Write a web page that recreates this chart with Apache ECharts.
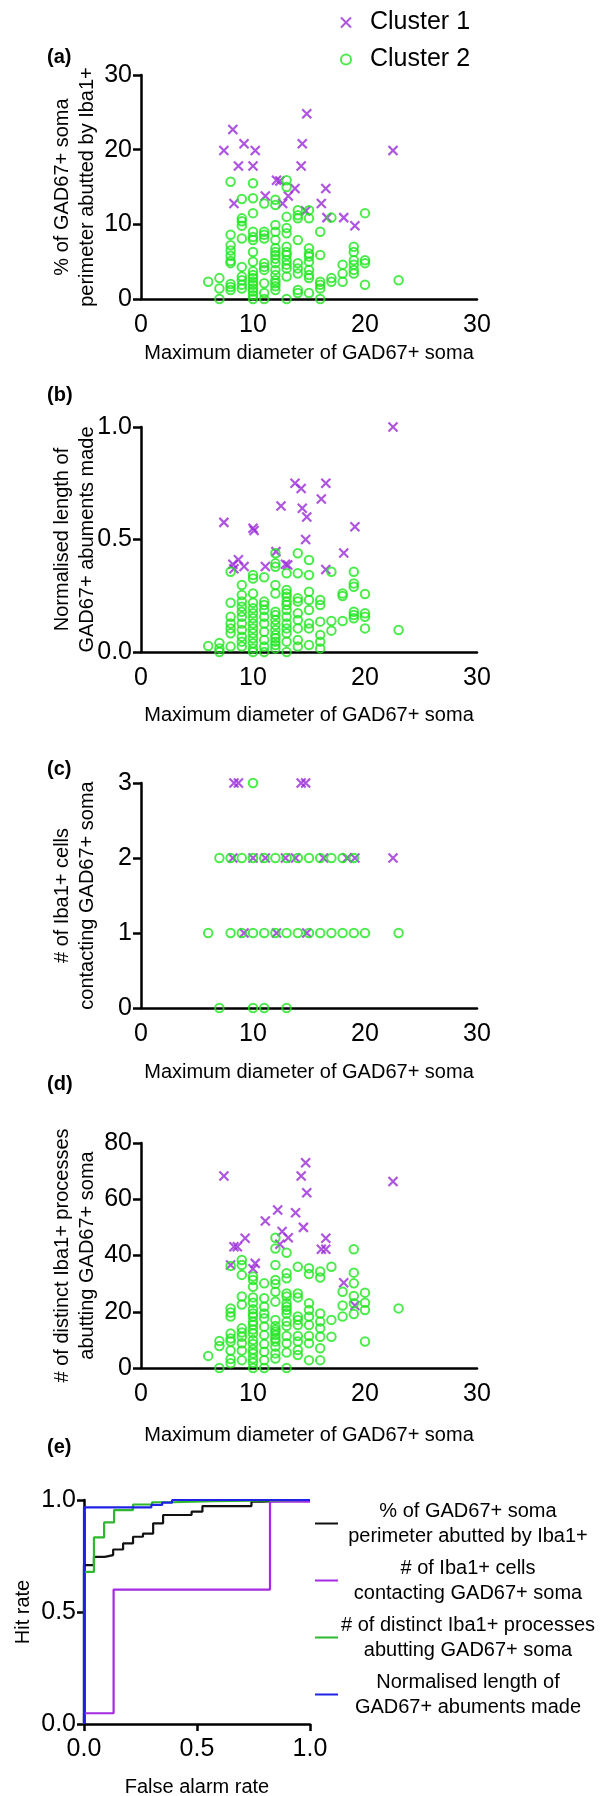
<!DOCTYPE html>
<html>
<head>
<meta charset="utf-8">
<script src="https://cdn.jsdelivr.net/npm/echarts@6/dist/echarts.min.js"></script>
<style>
  html, body { margin: 0; padding: 0; background: #fff; }
  #chart { width: 606px; height: 1796px; }
</style>
</head>
<body>
<div id="chart"></div>
<script>
// (a) % of soma perimeter abutted, x = maximum diameter
const aCluster1 = [[14.8,24.8],[8.2,22.7],[9.2,20.8],[7.4,19.9],[10.2,19.9],[14.4,20.8],[22.5,19.9],[8.7,17.8],[10.0,17.8],[14.3,17.8],[12.1,15.9],[12.4,15.8],[13.75,14.8],[16.5,14.8],[11.1,13.8],[13.15,13.8],[8.3,12.8],[12.65,12.8],[16.1,12.8],[14.7,11.8],[16.6,10.9],[18.1,10.9],[19.1,9.8]];
const aCluster2 = [[6,2.3],[7,2.8],[7,1.4],[7,0],
  [8,15.7],[8,8.6],[8,7.2],[8,6.5],[8,5.8],[8,5.1],[8,4.8],[8,2.0],[8,1.6],[8,1.2],
  [9,13.4],[9,10.8],[9,10.4],[9,9.8],[9,8.1],[9,4.3],[9,3.0],[9,2.5],[9,1.9],[9,1.4],
  [10,15.5],[10,13.5],[10,11.5],[10,9.0],[10,8.3],[10,7.9],[10,6.3],[10,5.0],[10,3.7],[10,3.2],[10,2.8],[10,2.3],[10,1.9],[10,1.4],[10,1.0],[10,0.5],[10,0],
  [11,12.8],[11,9.0],[11,8.6],[11,8.1],[11,4.8],[11,4.3],[11,3.9],[11,2.1],[11,0.8],[11,0],
  [12,13.3],[12,12.6],[12,9.9],[12,9.0],[12,7.9],[12,6.8],[12,6.3],[12,5.9],[12,5.4],[12,4.8],[12,3.9],[12,3.2],[12,2.5],[12,2.1],[12,1.7],[12,1.2],
  [13,15.9],[13,15.0],[13,11.0],[13,9.5],[13,8.8],[13,7.0],[13,6.3],[13,5.9],[13,5.2],[13,4.6],[13,4.1],[13,3.0],[13,0],
  [14,11.9],[14,11.2],[14,10.8],[14,7.9],[14,4.8],[14,4.1],[14,3.4],[14,1.2],[14,0.8],
  [15,11.9],[15,10.8],[15,6.8],[15,6.1],[15,5.7],[15,5.0],[15,3.9],[15,3.2],[15,2.8],[15,0.8],
  [16,9.0],[16,5.9],[16,2.3],[16,1.9],[16,1.4],[16,0],
  [17,10.9],[17,2.8],[17,2.3],
  [18,4.6],[18,3.4],[18,2.3],
  [19,7.0],[19,6.3],[19,5.2],[19,4.6],[19,3.9],[19,3.4],
  [20,11.5],[20,5.2],[20,4.8],[20,1.9],
  [23,2.5]];

// (b) normalised abutment length
const bCluster1 = [[22.5,1.0],[13.75,0.75],[14.3,0.727],[16.5,0.75],[16.1,0.68],[12.5,0.649],[14.4,0.639],[14.8,0.60],[7.4,0.576],[10.0,0.55],[10.1,0.54],[19.1,0.557],[14.7,0.50],[18.1,0.44],[12.05,0.446],[8.7,0.41],[8.2,0.39],[9.2,0.38],[11.1,0.38],[12.9,0.39],[13.1,0.387],[16.5,0.367],[8.3,0.37]];
const bCluster2 = [[6,0.027],[7,0.04],[7,0.016],[7,0],
  [8,0.357],[8,0.219],[8,0.157],[8,0.127],[8,0.105],[8,0.083],[8,0.024],
  [9,0.298],[9,0.253],[9,0.224],[9,0.201],[9,0.179],[9,0.157],[9,0.127],[9,0.098],[9,0.068],[9,0.046],[9,0.024],
  [10,0.342],[10,0.327],[10,0.26],[10,0.219],[10,0.194],[10,0.172],[10,0.15],[10,0.127],[10,0.105],[10,0.083],[10,0.061],[10,0.039],[10,0.016],[10,0],
  [11,0.332],[11,0.224],[11,0.209],[11,0.187],[11,0.157],[11,0.127],[11,0.09],[11,0.053],[11,0.024],[11,0],
  [12,0.439],[12,0.394],[12,0.379],[12,0.298],[12,0.26],[12,0.179],[12,0.164],[12,0.142],[12,0.12],[12,0.098],[12,0.076],[12,0.061],[12,0.046],[12,0.031],[12,0.016],
  [13,0.35],[13,0.276],[13,0.26],[13,0.246],[13,0.224],[13,0.209],[13,0.187],[13,0.157],[13,0.127],[13,0.105],[13,0.083],[13,0.046],[13,0],
  [14,0.439],[14,0.35],[14,0.239],[14,0.224],[14,0.172],[14,0.142],[14,0.105],[14,0.053],[14,0.024],
  [15,0.409],[15,0.342],[15,0.268],[15,0.231],[15,0.187],[15,0.127],[15,0.105],[15,0.031],
  [16,0.231],[16,0.209],[16,0.135],[16,0.076],[16,0.046],[16,0.016],
  [17,0.357],[17,0.138],[17,0.095],
  [18,0.26],[18,0.249],[18,0.138],
  [19,0.357],[19,0.305],[19,0.29],[19,0.179],[19,0.164],[19,0.15],
  [20,0.258],[20,0.172],[20,0.157],[20,0.105],
  [23,0.098]];

// (c) number of Iba1+ cells in contact
const cCluster1 = [[8.3,3],[8.7,3],[14.3,3],[14.7,3],
  [8.2,2],[10.0,2],[11.1,2],[12.9,2],[13.8,2],[16.3,2],[18.4,2],[19.1,2],[22.5,2],
  [9.2,1],[12.1,1],[14.8,1]];
const cCluster2 = [[10,3],
  [7,2],[8,2],[9,2],[10,2],[11,2],[12,2],[13,2],[14,2],[15,2],[16,2],[17,2],[18,2],[19,2],
  [6,1],[8,1],[9,1],[10,1],[11,1],[12,1],[13,1],[14,1],[15,1],[16,1],[17,1],[18,1],[19,1],[20,1],[23,1],
  [7,0],[10,0],[11,0],[13,0]];

// (d) number of distinct Iba1+ processes
const dCluster1 = [[14.7,73.0],[7.4,68.3],[14.3,68.3],[22.5,66.3],[14.8,62.3],[12.2,56.2],[13.8,55.2],[11.1,52.3],[14.5,50.0],[12.6,48.5],[13.15,46.3],[9.3,46.1],[16.5,46.1],[12.4,44.0],[8.3,43.1],[8.6,43.1],[16.1,42.2],[16.5,42.2],[10.2,37.2],[10.0,35.3],[8.0,36.6],[18.1,30.3],[19.1,22.2]];
const dCluster2 = [[6,4.3],[7,9.6],[7,7.8],[7,0],
  [8,36.3],[8,21.2],[8,19.7],[8,18.3],[8,12.3],[8,10.5],[8,9.4],[8,6.2],[8,3.2],[8,1.7],
  [9,38.4],[9,36.6],[9,33.1],[9,25.4],[9,22.6],[9,14.1],[9,12.6],[9,11.1],[9,8.8],[9,6.2],[9,2.8],
  [10,32.5],[10,31.3],[10,28.9],[10,25.1],[10,23.2],[10,20.9],[10,19.4],[10,18.3],[10,16.5],[10,15.3],[10,13.7],[10,12.3],[10,10.0],[10,8.5],[10,6.6],[10,5.2],[10,3.4],[10,1.9],[10,0],
  [11,30.1],[11,24.8],[11,21.8],[11,19.4],[11,17.7],[11,14.7],[11,11.7],[11,8.5],[11,5.8],[11,2.8],[11,0],
  [12,46.3],[12,42.5],[12,36.6],[12,31.3],[12,29.9],[12,27.1],[12,23.6],[12,17.1],[12,14.9],[12,13.7],[12,12.9],[12,11.7],[12,10.5],[12,9.4],[12,7.6],[12,5.2],[12,3.4],
  [13,41.0],[13,33.7],[13,31.9],[13,26.5],[13,25.4],[13,23.0],[13,21.8],[13,20.6],[13,19.4],[13,16.5],[13,14.9],[13,11.4],[13,8.8],[13,5.5],[13,0],
  [14,36.0],[14,26.5],[14,25.1],[14,18.3],[14,17.1],[14,15.3],[14,11.4],[14,9.4],[14,6.4],[14,4.6],
  [15,35.5],[15,33.4],[15,23.0],[15,20.6],[15,18.3],[15,15.3],[15,11.4],[15,8.8],[15,2.8],
  [16,34.3],[16,32.2],[16,19.4],[16,16.5],[16,14.1],[16,11.1],[16,7.0],[16,2.8],
  [17,36.0],[17,17.1],[17,11.1],
  [18,27.1],[18,22.2],[18,18.3],
  [19,42.2],[19,33.9],[19,30.1],[19,25.6],[19,23.0],[19,19.2],
  [20,26.8],[20,23.2],[20,20.6],[20,9.4],
  [23,21.2]];

// (e) ROC curves: [false alarm rate, hit rate]
const rocPerimeter = [[0,0],[0,0.709],[0.044,0.746],[0.092,0.754],[0.129,0.779],[0.173,0.806],[0.217,0.836],[0.261,0.85],[0.306,0.896],[0.35,0.933],[0.476,0.948],[0.524,0.973],[0.741,0.993],[0.786,1.0],[1,1]];
const rocCells = [[0,0],[0,0.048],[0.131,0.6],[0.823,0.993],[1,0.993]];
const rocProcesses = [[0,0],[0,0.679],[0.044,0.833],[0.089,0.9],[0.133,0.955],[0.217,0.98],[0.301,0.99],[0.394,0.995],[0.569,1.0],[1,1]];
const rocLength = [[0,0],[0,0.967],[0.298,0.978],[0.346,0.988],[0.39,1.0],[1,1]];

const xTitle = 'Maximum diameter of GAD67+ soma';
const yTitles = [
  '% of GAD67+ soma\nperimeter abutted by Iba1+',
  'Normalised length of\nGAD67+ abuments made',
  '# of Iba1+ cells\ncontacting GAD67+ soma',
  '# of distinct Iba1+ processes\nabutting GAD67+ soma'
];
const rocNames = [
  '% of GAD67+ soma\nperimeter abutted by Iba1+',
  '# of Iba1+ cells\ncontacting GAD67+ soma',
  '# of distinct Iba1+ processes\nabutting GAD67+ soma',
  'Normalised length of\nGAD67+ abuments made'
];

const PURPLE = '#9A2AD8';
const GREEN = '#1EE61E';
const FONT = 'Liberation Sans, Arial, sans-serif';
const cross = 'path://M0,0L10,10M10,0L0,10';

const myChart = echarts.init(document.getElementById('chart'));

const axisLine = {show: true, onZero: false, lineStyle: {color: '#000', width: 2.5}};
const tickLabel = {color: '#000', fontFamily: FONT, fontSize: 25};

function xAxisFor(i, gap) {
  return {
    type: 'value', gridIndex: i, min: 0, max: 30, interval: 10,
    axisLine, axisTick: {show: false}, splitLine: {show: false},
    axisLabel: Object.assign({margin: 14}, tickLabel),
    name: xTitle, nameLocation: 'middle', nameGap: gap, nameMoveOverlap: false,
    nameTextStyle: {color: '#000', fontFamily: FONT, fontSize: 20}
  };
}

function yAxisFor(i, max, interval, digits) {
  return {
    type: 'value', gridIndex: i, min: 0, max, interval,
    axisLine, splitLine: {show: false},
    axisTick: {show: true, length: 8, lineStyle: {color: '#000', width: 2.5}},
    axisLabel: Object.assign({margin: 9, formatter: v => v.toFixed(digits)}, tickLabel),
    name: yTitles[i], nameLocation: 'middle', nameRotate: 90, nameGap: 41, nameMoveOverlap: false,
    nameTextStyle: {color: '#000', fontFamily: FONT, fontSize: 20, lineHeight: 25, align: 'center'}
  };
}

const scatterPairs = [[aCluster1, aCluster2], [bCluster1, bCluster2], [cCluster1, cCluster2], [dCluster1, dCluster2]];
const series = [];
scatterPairs.forEach(([c1, c2], i) => {
  series.push({
    name: 'Cluster 1', type: 'scatter', xAxisIndex: i, yAxisIndex: i,
    symbol: cross, symbolSize: 9,
    itemStyle: {color: PURPLE, borderColor: PURPLE, borderWidth: 2.2},
    data: c1
  });
  series.push({
    name: 'Cluster 2', type: 'scatter', xAxisIndex: i, yAxisIndex: i,
    symbol: 'circle', symbolSize: 8.5,
    itemStyle: {color: 'rgba(0,0,0,0)', borderColor: GREEN, borderWidth: 2},
    data: c2
  });
});

const rocSets = [rocPerimeter, rocCells, rocProcesses, rocLength];
const rocColors = ['#111111', '#A52BE0', '#2DB82D', '#1F22E6'];
rocSets.forEach((d, k) => {
  series.push({
    name: rocNames[k], type: 'line', xAxisIndex: 4, yAxisIndex: 4,
    step: 'end', symbol: 'none', color: rocColors[k],
    lineStyle: {color: rocColors[k], width: 2.2},
    data: d
  });
});

const panelTitle = (text, top) => ({
  text, left: 42, top,
  textStyle: {color: '#000', fontFamily: FONT, fontSize: 20, fontWeight: 'bold'}
});

myChart.setOption({
  animation: false,
  backgroundColor: '#fff',
  title: [
    panelTitle('(a)', 42),
    panelTitle('(b)', 380),
    panelTitle('(c)', 754),
    panelTitle('(d)', 1069),
    panelTitle('(e)', 1432)
  ],
  legend: [
    {
      data: ['Cluster 1', 'Cluster 2'],
      orient: 'vertical', left: 340, top: 10, padding: 0,
      itemWidth: 10, itemHeight: 10, itemGap: 12,
      formatter: name => '{n|' + name + '}',
      textStyle: {
        color: '#000', fontFamily: FONT, fontSize: 25,
        rich: {n: {padding: [0, 0, 0, 14], fontSize: 25, fontFamily: FONT, color: '#000'}}
      }
    },
    {
      data: rocNames,
      orient: 'vertical', left: 315, top: 1501, padding: 0,
      icon: 'rect', itemWidth: 23, itemHeight: 2, itemGap: 12,
      formatter: name => name.split('\n').map(s => '{t|' + s + '}').join('\n'),
      textStyle: {
        color: '#000', fontFamily: FONT, fontSize: 20,
        rich: {t: {width: 250, align: 'center', fontSize: 20, lineHeight: 25, fontFamily: FONT, color: '#000'}}
      }
    }
  ],
  grid: [
    {left: 141, top: 75, width: 336, height: 224, outerBoundsMode: 'none'},
    {left: 141, top: 427, width: 336, height: 225, outerBoundsMode: 'none'},
    {left: 141, top: 783, width: 336, height: 225, outerBoundsMode: 'none'},
    {left: 141, top: 1143, width: 336, height: 225, outerBoundsMode: 'none'},
    {left: 84, top: 1500, width: 226, height: 224, outerBoundsMode: 'none'}
  ],
  xAxis: [
    xAxisFor(0, 44),
    xAxisFor(1, 53),
    xAxisFor(2, 54),
    xAxisFor(3, 57),
    {
      type: 'value', gridIndex: 4, min: 0, max: 1, interval: 0.5,
      axisLine, splitLine: {show: false},
      axisTick: {show: true, length: 7, lineStyle: {color: '#000', width: 2.5}},
      axisLabel: Object.assign({margin: 13, formatter: v => v.toFixed(1)}, tickLabel),
      name: 'False alarm rate', nameLocation: 'middle', nameGap: 53, nameMoveOverlap: false,
      nameTextStyle: {color: '#000', fontFamily: FONT, fontSize: 20}
    }
  ],
  yAxis: [
    yAxisFor(0, 30, 10, 0),
    yAxisFor(1, 1, 0.5, 1),
    yAxisFor(2, 3, 1, 0),
    yAxisFor(3, 80, 20, 0),
    {
      type: 'value', gridIndex: 4, min: 0, max: 1, interval: 0.5,
      axisLine, splitLine: {show: false},
      axisTick: {show: true, length: 7, lineStyle: {color: '#000', width: 2.5}},
      axisLabel: Object.assign({margin: 8, formatter: v => v.toFixed(1)}, tickLabel),
      name: 'Hit rate', nameLocation: 'middle', nameRotate: 90, nameGap: 51, nameMoveOverlap: false,
      nameTextStyle: {color: '#000', fontFamily: FONT, fontSize: 20}
    }
  ],
  series
});
</script>
</body>
</html>
